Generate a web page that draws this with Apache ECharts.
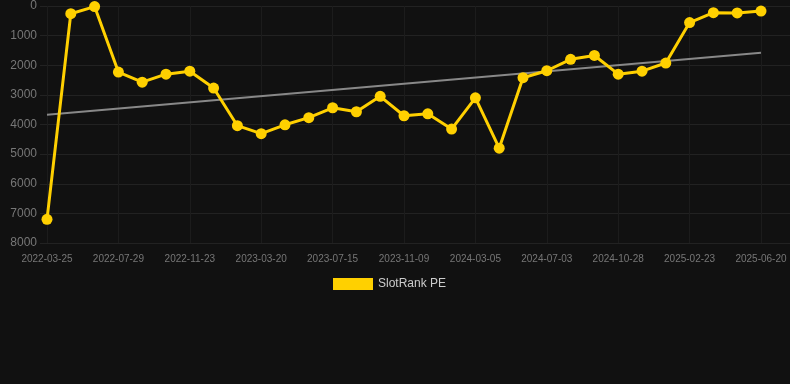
<!DOCTYPE html>
<html>
<head>
<meta charset="utf-8">
<script src="https://cdn.jsdelivr.net/npm/echarts@6/dist/echarts.min.js"></script>
<style>
html,body{margin:0;padding:0;background:#111111;}
#c{width:790px;height:384px;}
</style>
</head>
<body>
<div id="c"></div>
<script>
var categories = [
  '2022-03-25','2022-05-06','2022-06-17','2022-07-29','2022-09-06','2022-10-15',
  '2022-11-23','2023-01-01','2023-02-09','2023-03-20','2023-04-28','2023-06-06',
  '2023-07-15','2023-08-23','2023-10-01','2023-11-09','2023-12-18','2024-01-26',
  '2024-03-05','2024-04-14','2024-05-24','2024-07-03','2024-08-11','2024-09-19',
  '2024-10-28','2024-12-06','2025-01-14','2025-02-23','2025-04-01','2025-05-10',
  '2025-06-20'
];
var rankValues = [
  7200, 260, 20, 2230, 2570, 2300,
  2200, 2770, 4040, 4310, 4010, 3770,
  3435, 3570, 3050, 3705, 3640, 4155,
  3100, 4800, 2420, 2185, 1800, 1670,
  2300, 2200, 1925, 560, 225, 235,
  170
];
var trendEnds = [3670, 1580];
var yTicks = [0, 8000, 1000];

var chart = echarts.init(document.getElementById('c'), null, {renderer: 'canvas'});
var font = 'Liberation Sans, Arial, sans-serif';
chart.setOption({
  backgroundColor: '#111111',
  animation: false,
  textStyle: {fontFamily: font},
  legend: {
    data: ['SlotRank PE'],
    top: 278,
    left: 333,
    icon: 'rect',
    itemWidth: 40,
    itemHeight: 12,
    itemGap: 10,
    padding: 0,
    textStyle: {color: '#cccccc', fontSize: 12, fontFamily: font}
  },
  grid: [
    {left: 40, right: 0, top: 6, bottom: 141},
    {left: 47, right: 29, top: 6, bottom: 141}
  ],
  xAxis: [
    {type: 'value', gridIndex: 0, show: false, min: 0, max: 1},
    {
      type: 'category', gridIndex: 1, data: categories, boundaryGap: false,
      axisLine: {show: false},
      axisTick: {show: true, interval: 2, length: 7, lineStyle: {color: '#1c1c1c'}},
      splitLine: {show: true, interval: 2, lineStyle: {color: '#1c1c1c', width: 1}},
      axisLabel: {interval: 2, color: '#777777', fontSize: 10, margin: 11, fontFamily: font}
    }
  ],
  yAxis: [
    {
      type: 'value', gridIndex: 0, inverse: true,
      min: yTicks[0], max: yTicks[1], interval: yTicks[2],
      axisLine: {show: false}, axisTick: {show: false},
      splitLine: {lineStyle: {color: '#222222', width: 1}},
      axisLabel: {color: '#777777', fontSize: 12, margin: 3, fontFamily: font,
        formatter: function (v) { return String(v); }}
    },
    {
      type: 'value', gridIndex: 1, inverse: true,
      min: yTicks[0], max: yTicks[1], interval: yTicks[2], show: false,
      splitLine: {show: false}
    }
  ],
  series: [
    {
      name: 'Trend', type: 'line', xAxisIndex: 1, yAxisIndex: 1,
      data: [[0, trendEnds[0]], [categories.length - 1, trendEnds[1]]],
      symbol: 'none', silent: true,
      lineStyle: {color: '#888888', width: 2},
      z: 2
    },
    {
      name: 'SlotRank PE', type: 'line', xAxisIndex: 1, yAxisIndex: 1,
      data: rankValues,
      symbol: 'circle', symbolSize: 11,
      itemStyle: {color: '#ffd000'},
      lineStyle: {color: '#ffd000', width: 3},
      z: 3
    }
  ]
});
</script>
</body>
</html>
